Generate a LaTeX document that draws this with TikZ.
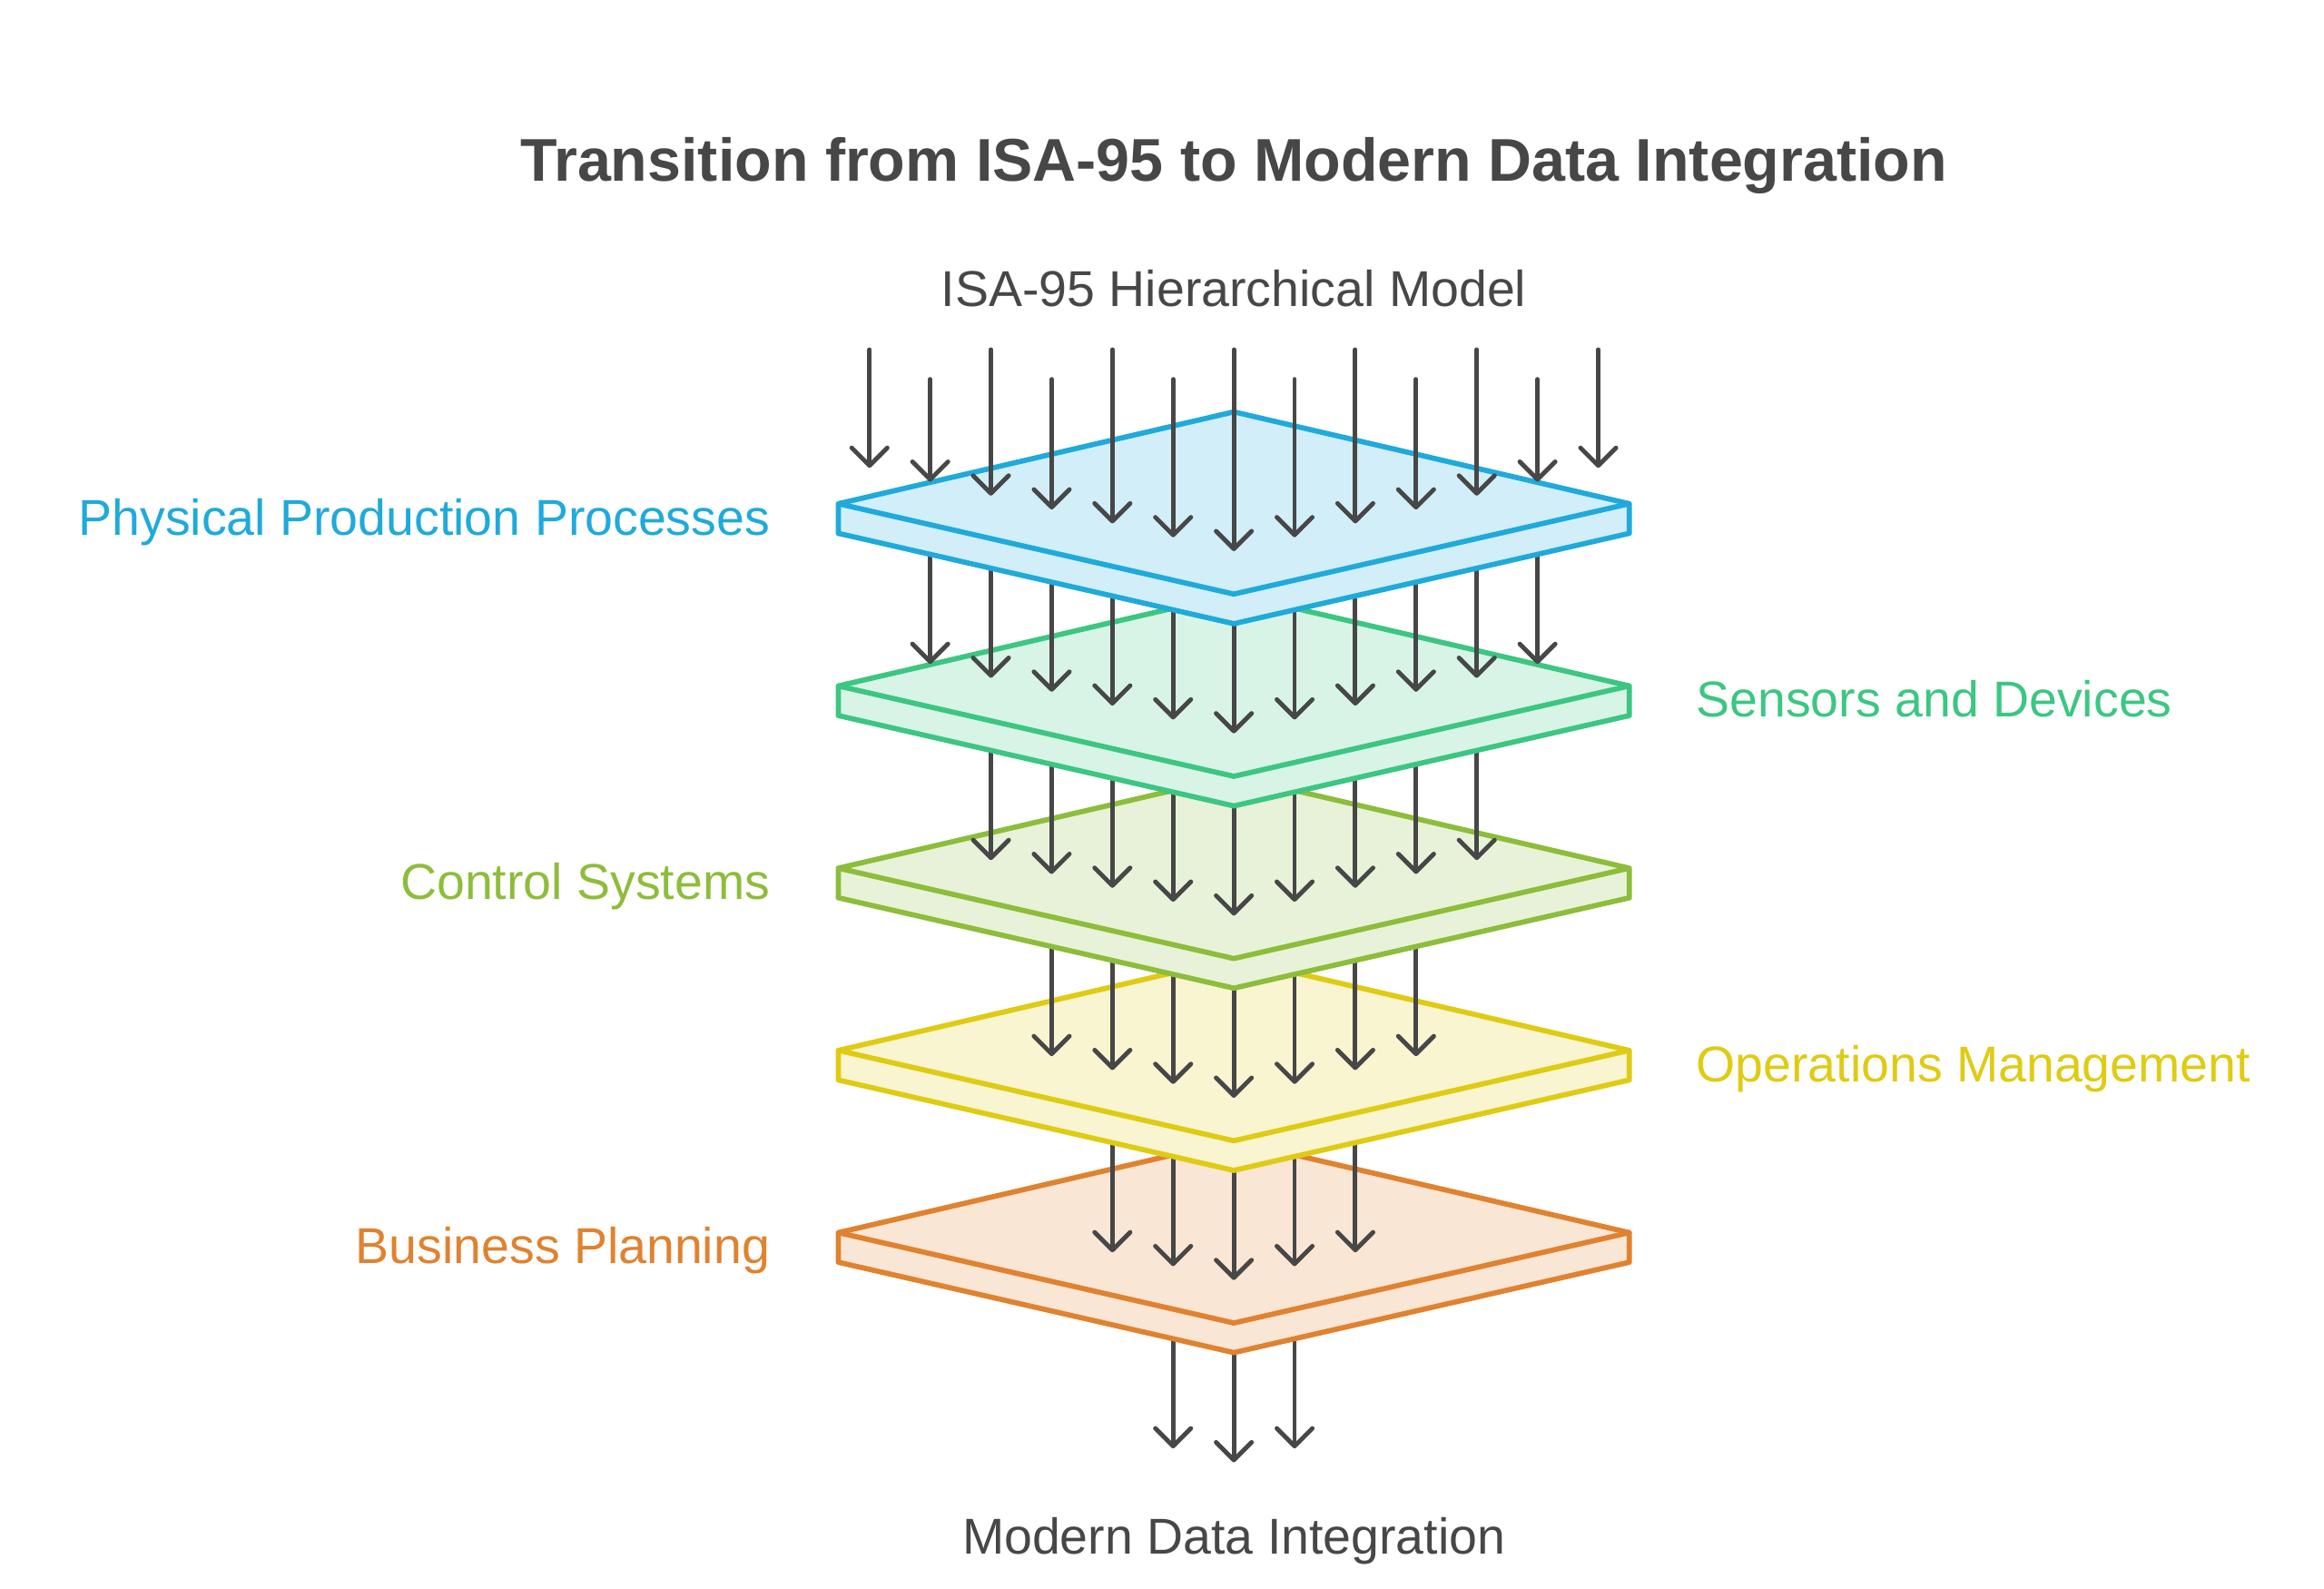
\documentclass[tikz,border=0pt]{standalone}
\usepackage{fontspec}
\setmainfont{Liberation Sans}
\usetikzlibrary{arrows.meta, positioning}

\definecolor{inkgray}{HTML}{474747}
\definecolor{physblue}{HTML}{1FAADB}
\definecolor{sensgreen}{HTML}{3CC682}
\definecolor{ctrlgreen}{HTML}{8DBD3B}
\definecolor{opsyellow}{HTML}{DFCB14}
\definecolor{bizorange}{HTML}{E0822F}

% one layer of the stack: y of its left corner, colour
\newcommand{\slab}[2]{%
  \path[plate=#2] (566,#1) -- (833,{#1-62}) -- (1100,#1) -- (1100,{#1+20})
    -- (833,{#1+81}) -- (566,{#1+20}) -- cycle;
  \draw[plate=#2, fill=none] (566,#1) -- (833,{#1+61}) -- (1100,#1);
}

\begin{document}
\begin{tikzpicture}[
  x=1pt, y=-1pt,
  plate/.style={line width=3.5pt, line join=round, draw=#1, fill=#1!20},
  flow/.style={draw=inkgray, line width=3pt, line cap=round,
    -{Straight Barb[round, length=12pt, width=24pt]}},
  every node/.style={inner sep=0pt, text=inkgray},
  caption/.style={font=\fontsize{34}{40}\selectfont},
  side label/.style={font=\fontsize{34}{40}\selectfont, text=#1}
]
\useasboundingbox (0,0) rectangle (1569,1072.5);

\node[font=\bfseries\fontsize{40.7}{48}\selectfont, anchor=base] (title) at (833,122)
  {Transition from ISA-95 to Modern Data Integration};
\node[caption, anchor=base] (source) at (833,207) {ISA-95 Hierarchical Model};
\node[caption, anchor=base] (target) at (833,1049) {Modern Data Integration};

% arrows between layers, then the layer above them
\foreach \g/\pc in {5/bizorange,4/opsyellow,3/ctrlgreen,2/sensgreen,1/physblue}{
  \pgfmathsetmacro\upy{340+123*(\g-1)}
  \pgfmathtruncatemacro\lo{\g}
  \pgfmathtruncatemacro\hi{12-\g}
  \foreach \k in {\lo,...,\hi}{
    \pgfmathsetmacro\dx{abs(\k-6)}
    \coordinate (from\g-\k) at ({833+41*(\k-6)}, {\upy+61-9.37*\dx});
    \coordinate (to\g-\k) at ({833+41*(\k-6)}, {\upy+155-9.37*\dx});
    \draw[flow] (from\g-\k) -- (to\g-\k);
  }
  \slab{\upy}{\pc}
}

% arrows coming in from the top
\foreach \k in {0,...,12}{
  \pgfmathsetmacro\dx{abs(\k-6)}
  \pgfmathsetmacro\sy{mod(\k,2)==0 ? 236 : 256}
  \coordinate (from0-\k) at ({833+41*(\k-6)}, \sy);
  \coordinate (to0-\k) at ({833+41*(\k-6)}, {372-9.37*\dx});
  \draw[flow] (from0-\k) -- (to0-\k);
}

\node[side label=physblue, anchor=base east] (phys) at (520,361) {Physical Production Processes};
\node[side label=sensgreen, anchor=base west] (sens) at (1145,484) {Sensors and Devices};
\node[side label=ctrlgreen, anchor=base east] (ctrl) at (520,607) {Control Systems};
\node[side label=opsyellow, anchor=base west] (ops) at (1145,730) {Operations Management};
\node[side label=bizorange, anchor=base east] (biz) at (520,853) {Business Planning};
\end{tikzpicture}
\end{document}
